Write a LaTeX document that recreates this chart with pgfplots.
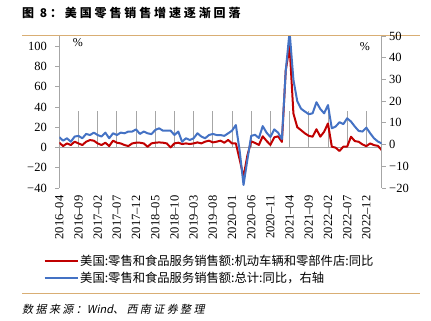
\documentclass[border=0pt]{standalone}
\usepackage{pgfplots}
\pgfplotsset{compat=1.18}
\usepackage{pgfplotstable}
\usepackage{fontspec}
\setmainfont{Liberation Serif}
\newfontfamily\cjk{Noto Sans CJK SC}
\newfontfamily\cjktitle{Noto Sans CJK SC}[LetterSpace=24]
\newfontfamily\cjkit{Noto Sans CJK SC}[FakeSlant=0.2, LetterSpace=22]
\newfontfamily\cjkitn{Noto Sans CJK SC}[FakeSlant=0.2]
\definecolor{cred}{RGB}{192,0,0}
\definecolor{cblue}{RGB}{68,114,196}
\definecolor{axgray}{RGB}{166,166,166}
\definecolor{tanline}{RGB}{217,174,116}

\pgfplotstableread{
x y
0 4.7
1 1.4
2 4.0
3 2.4
4 5.7
5 4.0
6 2.4
7 5.7
8 7.3
9 6.7
10 4.0
11 2.4
12 4.7
13 1.4
14 6.7
15 4.7
16 4.0
17 2.4
18 1.4
19 4.0
20 4.7
21 4.7
22 4.0
23 0.7
24 4.0
25 4.7
26 5.0
27 4.7
28 4.0
29 0.1
30 4.0
31 4.7
32 3.4
33 4.0
34 3.4
35 4.0
36 5.0
37 4.0
38 5.7
39 6.7
40 5.0
41 5.7
42 6.7
43 4.7
44 7.4
45 4.0
46 4.0
47 -12
48 -29
49 -8
50 6
51 4.5
52 2.5
53 11
54 6.5
55 2.5
56 10
57 11
58 5.5
59 76
60 100
61 33.5
62 20
63 17
64 13.9
65 11.5
66 10.6
67 18
68 10.6
69 15.5
70 23.7
71 0.8
72 -0.2
73 -3.5
74 0.8
75 0.8
76 10.6
77 6.3
78 5.6
79 3.0
80 1.3
81 4.0
82 2.3
83 1.6
84 -2.6
}\redtab

\pgfplotstableread{
x y
0 3.4
1 1.8
2 2.9
3 1.3
4 3.7
5 4.0
6 2.9
7 4.9
8 4.4
9 5.5
10 4.4
11 3.7
12 5.5
13 2.9
14 5.2
15 4.4
16 5.5
17 5.2
18 6.0
19 6.0
20 7.0
21 4.9
22 6.0
23 5.2
24 4.8
25 6.7
26 7.5
27 6.4
28 6.4
29 6.4
30 4.4
31 6.0
32 1.3
33 2.9
34 2.1
35 2.9
36 5.2
37 3.7
38 2.9
39 4.4
40 4.9
41 4.4
42 4.4
43 4.0
44 5.2
45 6.4
46 9.0
47 -3
48 -18.6
49 -7
50 4.0
51 4.5
52 3.0
53 8.5
54 5.5
55 3.5
56 7.0
57 5.5
58 2.5
59 34
60 52
61 29.8
62 20
63 16.5
64 15.2
65 14.0
66 14.4
67 19.5
68 16.4
69 14.4
70 18.2
71 7.5
72 8.3
73 10.3
74 9.4
75 12.1
76 10.6
77 8.3
78 6.3
79 6.0
80 7.8
81 5.2
82 2.9
83 1.4
84 0.5
}\bluetab

\begin{document}
\begin{tikzpicture}
\useasboundingbox (0pt,0pt) rectangle (431pt,321pt);
\node[anchor=west, inner sep=0] at (22pt,308pt) {\cjktitle\bfseries\fontsize{12}{14}\selectfont 图 8：美国零售销售增速逐渐回落};
\draw[tanline, line width=0.8pt] (22pt,286pt) -- (420pt,286pt);
\draw[tanline, line width=0.8pt] (22pt,28pt) -- (420pt,28pt);
\node[anchor=west, inner sep=0] at (22pt,12pt) {\fontsize{11}{13}\selectfont\cjkit 数据来源：\cjkitn Wind\cjkit 、西南证券整理};

\begin{axis}[
  at={(59.3pt,133pt)}, anchor=south west, scale only axis,
  width=322.4pt, height=152pt,
  xmin=0, xmax=84, ymin=-40, ymax=110,
  axis y line*=left, axis x line*=bottom,
  x axis line style={draw=none},
  y axis line style={axgray, line width=0.8pt},
  xtick={0,5,...,80},
  xticklabels={2016--04,2016--09,2017--02,2017--07,2017--12,2018--05,2018--10,2019--03,2019--08,2020--01,2020--06,2020--11,2021--04,2021--09,2022--02,2022--07,2022--12},
  ytick={-40,-20,0,20,40,60,80,100},
  yticklabels={−40,−20,0,20,40,60,80,100},
  xtick style={draw=none},
  ytick style={axgray, line width=0.8pt},
  tick align=outside, major tick length=4pt,
  tick label style={font=\fontsize{12.5}{14}\selectfont, text=black},
  yticklabel style={xshift=-5pt},
  xticklabel style={rotate=90, anchor=east},
]
\draw[axgray, line width=0.8pt] (axis cs:0,0) -- (axis cs:84,0);
\pgfplotsinvokeforeach{0,5,...,80}{\draw[axgray, line width=0.8pt] (axis cs:#1,0) -- ++(0,-4pt);}
\addplot[cred, line width=2pt, line join=round, mark=none] table[x=x,y=y] {\redtab};
\node[font=\fontsize{12}{14}\selectfont] at (axis description cs:0.058,0.954) {\%};
\end{axis}

\begin{axis}[
  at={(59.3pt,133pt)}, anchor=south west, scale only axis,
  width=322.4pt, height=152pt,
  xmin=0, xmax=84, ymin=-20, ymax=50,
  axis y line*=right, axis x line=none,
  y axis line style={axgray, line width=0.8pt},
  ytick={-20,-10,0,10,20,30,40,50},
  yticklabels={−20,−10,0,10,20,30,40,50},
  ytick style={axgray, line width=0.8pt},
  tick align=outside, major tick length=4pt,
  tick label style={font=\fontsize{12.5}{14}\selectfont, text=black},
  legend style={at={(axis description cs:-0.049,-0.428)}, anchor=north west, draw=none, fill=none, inner sep=0pt,
    font=\cjk\fontsize{12.3}{14}\selectfont, row sep=2.5pt, nodes={inner sep=1.5pt, text=black}},
  legend cell align=left,
  legend image code/.code={\draw[#1] (0pt,0pt) -- (33pt,0pt);},
]
\addlegendimage{cred, line width=2pt}
\addlegendentry{美国:零售和食品服务销售额:机动车辆和零部件店:同比}
\addplot[cblue, line width=2pt, line join=round, mark=none] table[x=x,y=y] {\bluetab};
\addlegendentry{美国:零售和食品服务销售额:总计:同比，右轴}
\node[font=\fontsize{12}{14}\selectfont] at (axis description cs:0.948,0.928) {\%};
\end{axis}
\end{tikzpicture}
\end{document}
